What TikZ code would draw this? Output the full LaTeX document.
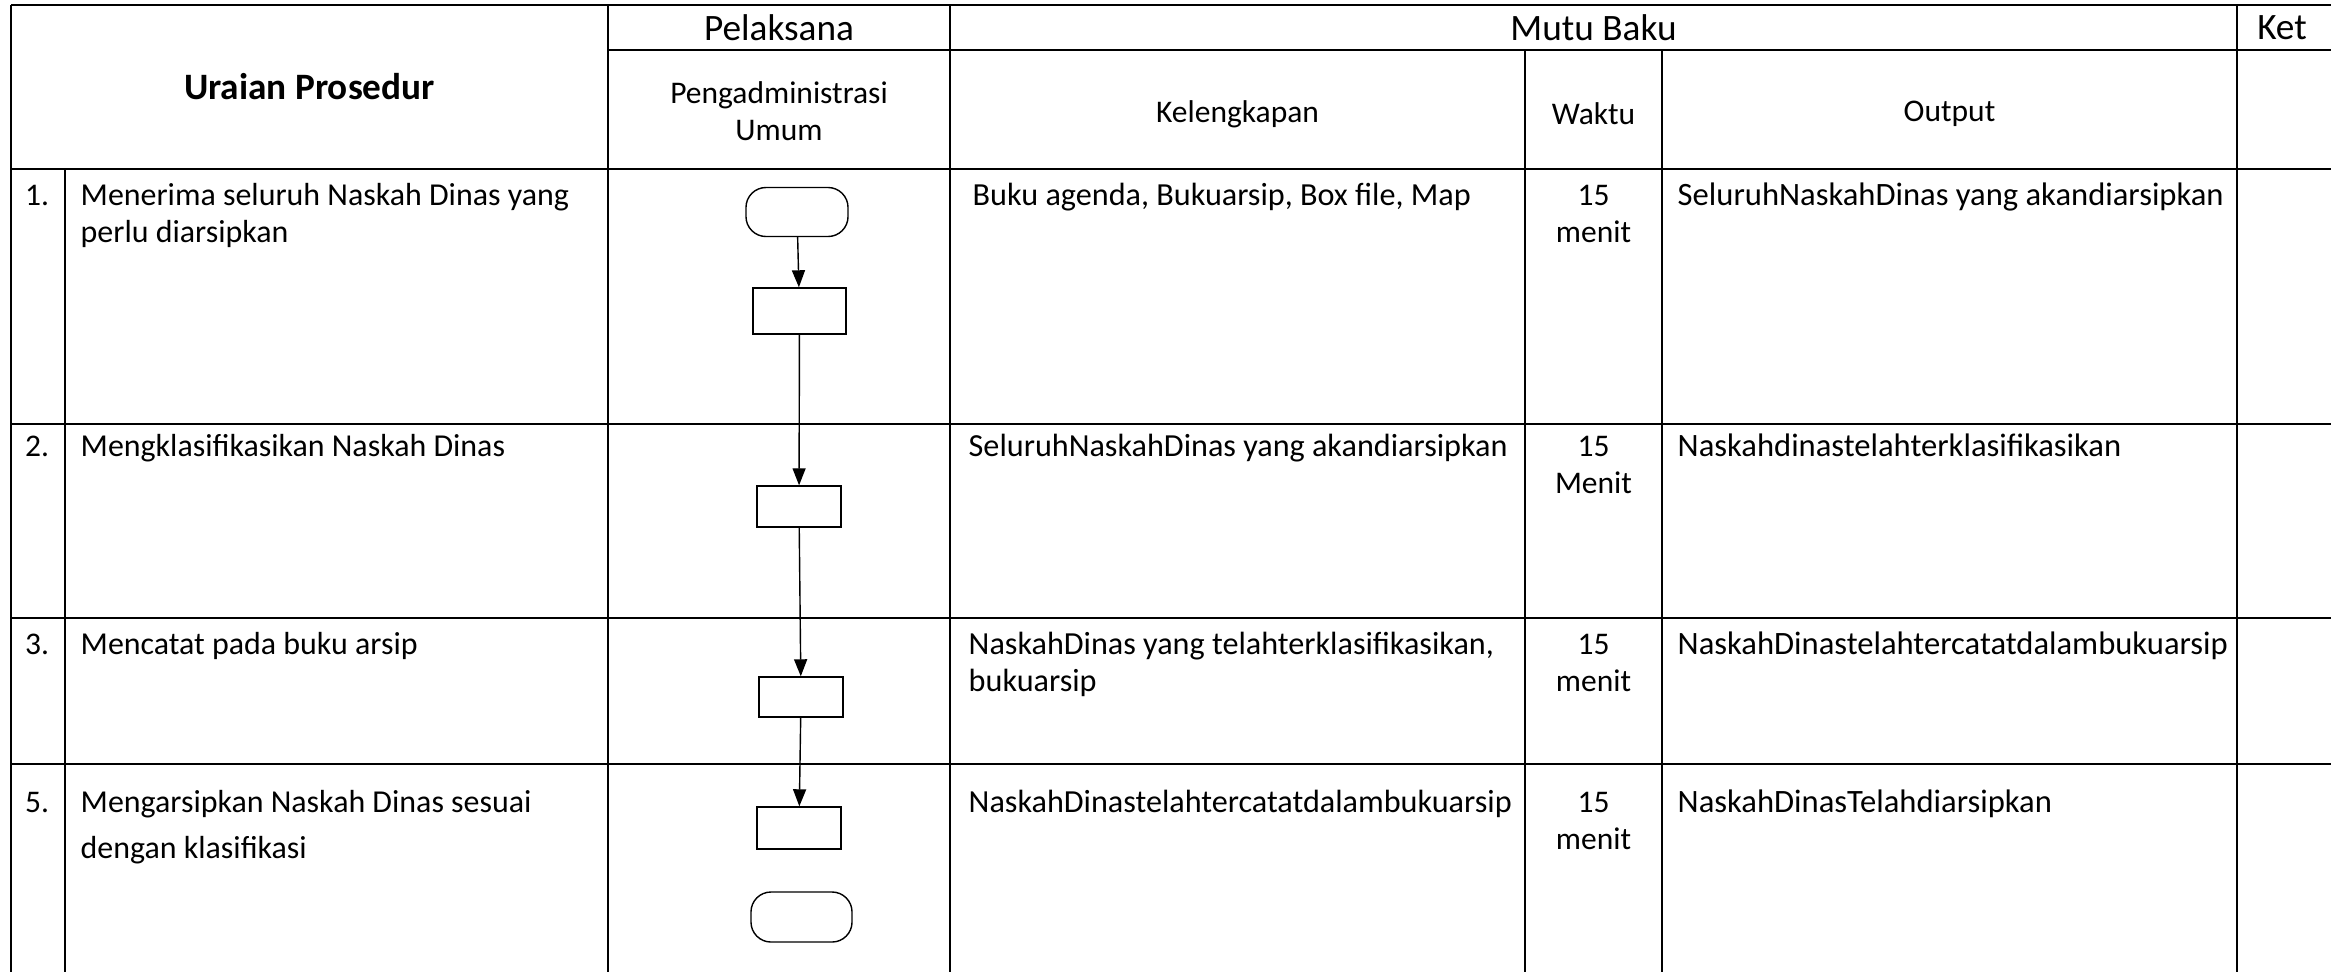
\documentclass[tikz,border=0pt]{standalone}
\usepackage{fontspec}
\setmainfont{Carlito}
\usepackage{tikz}
\usetikzlibrary{arrows.meta}

\newcommand{\isifont}{\fontsize{8.96}{10.67}\selectfont}
\newcommand{\uraianfont}{\fontsize{9.08}{10.67}\selectfont}
\newcommand{\lebarfont}{\fontsize{9.08}{13.1}\selectfont}
\newcommand{\lengkapfont}{\fontsize{9.15}{10.67}\selectfont}
\newcommand{\outputfont}{\fontsize{9.27}{10.67}\selectfont}
\newcommand{\judulfont}{\fontsize{10.6}{12.8}\selectfont}

\tikzset{
  garis/.style={line width=0.6pt},
  proses/.style={draw, line width=0.4pt, inner sep=0, minimum width=0.84cm, minimum height=0.41cm},
  terminal/.style={draw, line width=0.4pt, inner sep=0, rounded corners=0.2cm, minimum width=1.02cm, minimum height=0.49cm},
  alur/.style={line width=0.4pt, -{Triangle[length=0.17cm,width=0.13cm]}},
  isi/.style={anchor=base west, inner sep=0, text width=6cm, align=flush left, font=\uraianfont},
  nomor/.style={anchor=base, inner sep=0, font=\isifont},
  waktu/.style={anchor=base, inner sep=0, text width=1.2cm, align=flush center, font=\isifont},
  kepala/.style={inner sep=0, align=center}
}

\begin{document}
\begin{tikzpicture}[x=0.01cm, y=-0.01cm]
                \useasboundingbox (0,0) rectangle (2331,972);
                % garis tabel
                \draw[garis] (11,5) -- (2331,5);
                \draw[garis] (608,50) -- (2331,50);
                \foreach \y in {169,424,618,764}
                    \draw[garis] (11,\y) -- (2331,\y);
                \draw[garis] (11,5) -- (11,972);
                \draw[garis] (65,169) -- (65,972);
                \draw[garis] (608,5) -- (608,972);
                \draw[garis] (950,5) -- (950,972);
                \draw[garis] (1525,50) -- (1525,972);
                \draw[garis] (1662,50) -- (1662,972);
                \draw[garis] (2237,5) -- (2237,972);
                % kepala tabel
                \node[kepala, font=\judulfont\bfseries] (uraian) at (309.5,87) {Uraian Prosedur};
                \node[kepala, font=\judulfont] (pelaksana) at (779,27.5) {Pelaksana};
                \node[kepala, font=\judulfont] (mutu) at (1593.5,27.5) {Mutu Baku};
                \node[kepala, font=\judulfont] (ket) at (2282,27.5) {Ket};
                \node[kepala, font=\isifont] (pengadm) at (779,111) {Pengadministrasi\\Umum};
                \node[kepala, font=\isifont] (kelengkapan) at (1237.5,114) {Kelengkapan};
                \node[kepala, font=\isifont] (waktu) at (1593.5,114) {Waktu};
                \node[kepala, font=\isifont] (output) at (1949.5,114) {Output};
                % baris 1
                \node[nomor] (no1) at (37,205) {1.};
                \node[isi] (uraian1) at (80,205) {Menerima seluruh Naskah Dinas yang\\perlu diarsipkan};
                \node[isi, font=\lengkapfont] (lengkap1) at (972,205) {Buku agenda, Bukuarsip, Box file, Map};
                \node[waktu] (waktu1) at (1593.5,205) {15\\menit};
                \node[isi, font=\outputfont] (output1) at (1677,205) {SeluruhNaskahDinas yang akandiarsipkan};
                % baris 2
                \node[nomor] (no2) at (37,456) {2.};
                \node[isi] (uraian2) at (80,456) {Mengklasifikasikan Naskah Dinas};
                \node[isi, font=\lengkapfont] (lengkap2) at (968,456) {SeluruhNaskahDinas yang akandiarsipkan};
                \node[waktu] (waktu2) at (1593.5,456) {15\\Menit};
                \node[isi, font=\outputfont] (output2) at (1677,456) {Naskahdinastelahterklasifikasikan};
                % baris 3
                \node[nomor] (no3) at (37,654) {3.};
                \node[isi] (uraian3) at (80,654) {Mencatat pada buku arsip};
                \node[isi, font=\lengkapfont] (lengkap3) at (968,654) {NaskahDinas yang telahterklasifikasikan,\\bukuarsip};
                \node[waktu] (waktu3) at (1593.5,654) {15\\menit};
                \node[isi, font=\outputfont] (output3) at (1677,654) {NaskahDinastelahtercatatdalambukuarsip};
                % baris 5
                \node[nomor] (no5) at (37,812) {5.};
                \node[isi, font=\lebarfont] (uraian5) at (80,812) {Mengarsipkan Naskah Dinas sesuai\\dengan klasifikasi};
                \node[isi, font=\lengkapfont] (lengkap5) at (968,812) {NaskahDinastelahtercatatdalambukuarsip};
                \node[waktu] (waktu5) at (1593.5,812) {15\\menit};
                \node[isi, font=\outputfont] (output5) at (1677,812) {NaskahDinasTelahdiarsipkan};
                % bagan alir
                \node[terminal] (mulai) at (797,212) {};
                \node[proses, minimum width=0.93cm, minimum height=0.46cm] (proses1) at (799.5,311) {};
                \node[proses] (proses2) at (799,506.5) {};
                \node[proses, minimum height=0.40cm] (proses3) at (801,697) {};
                \node[proses, minimum height=0.42cm] (proses4) at (799,828) {};
                \node[terminal, minimum width=1.01cm, minimum height=0.50cm] (selesai) at (801.5,917) {};
                \draw[alur] (mulai) -- (proses1);
                \draw[alur] (proses1) -- (proses2);
                \draw[alur] (proses2) -- (proses3);
                \draw[alur] (proses3) -- (proses4);
            \end{tikzpicture}
\end{document}
